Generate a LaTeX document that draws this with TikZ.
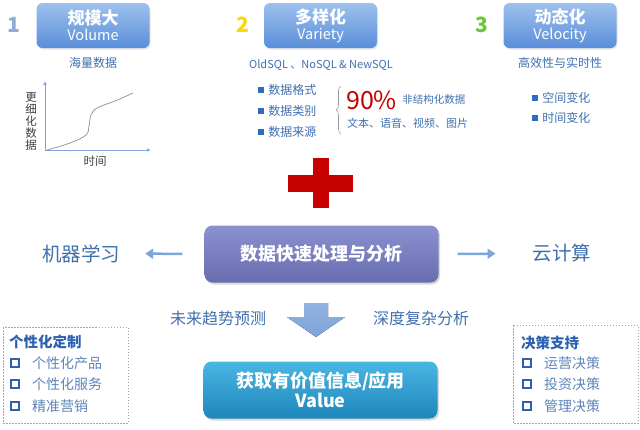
\documentclass[tikz,border=0pt]{standalone}
\usepackage{fontspec}
\setmainfont{Noto Sans CJK SC}
\usetikzlibrary{positioning, arrows.meta, shadows, decorations.pathreplacing}

\definecolor{headtop}{HTML}{9DC1EE}
\definecolor{headbot}{HTML}{5A8ED9}
\definecolor{proctop}{HTML}{8B91D0}
\definecolor{procbot}{HTML}{676DAE}
\definecolor{valtop}{HTML}{4AB6E2}
\definecolor{valbot}{HTML}{1D86BC}
\definecolor{txtblue}{HTML}{3F6FAE}
\definecolor{dotblue}{HTML}{2F6CC0}
\definecolor{hdblue}{HTML}{2C62B0}
\definecolor{arrblue}{HTML}{7EA4D9}
\definecolor{plusred}{HTML}{C40000}

\begin{document}
\begin{tikzpicture}[
  x=1pt, y=-1pt,
  node distance=3pt and 4pt,
  headbox/.style={rounded corners=6pt, minimum width=113pt, minimum height=45pt,
                  inner sep=0pt, align=center, top color=headtop, bottom color=headbot,
                  text=white, drop shadow={opacity=0.2, shadow xshift=1pt, shadow yshift=-1.5pt}},
  num/.style={font=\fontsize{21}{23}\selectfont\bfseries},
  sub/.style={font=\fontsize{12}{14}\selectfont, text=txtblue, inner sep=0pt},
  sqdot/.style={fill=dotblue, minimum size=6pt, inner sep=0pt},
  item/.style={font=\fontsize{12}{14}\selectfont, text=txtblue, inner sep=0pt, anchor=west},
  axis/.style={draw=arrblue, line width=0.8pt, -{Latex[length=4pt, width=3.5pt]}},
  big/.style={font=\fontsize{19.5}{22}\selectfont, text=txtblue, inner sep=0pt},
  mid/.style={font=\fontsize{16}{18}\selectfont, text=txtblue, inner sep=0pt},
  side/.style={draw=arrblue, line width=2.5pt, -{Triangle[length=8pt, width=10pt]}},
  bigbox/.style={rounded corners=8pt, minimum width=234pt, minimum height=57pt,
                 inner sep=0pt, align=center, text=white,
                 font=\fontsize{18}{22}\selectfont\bfseries,
                 drop shadow={opacity=0.3, shadow xshift=1.5pt, shadow yshift=-2pt}},
  dashbox/.style={draw=black!35, dashed, dash pattern=on 1.5pt off 1.5pt, line width=0.7pt},
  grphead/.style={font=\fontsize{14.5}{16}\selectfont\bfseries, text=hdblue, inner sep=0pt, anchor=west},
  hollow/.style={draw=hdblue, line width=1.6pt, minimum size=8pt, inner sep=0pt},
  grpitem/.style={font=\fontsize{14}{16}\selectfont, text=txtblue!85, inner sep=0pt, anchor=west},
]
\useasboundingbox (0,0) rectangle (640,429);

% column 1: volume
\node[num, text=headtop!90!black] (n1) at (14,25) {1};
\node[headbox] (vol) at (93,25.5) {{\fontsize{17}{20}\selectfont\bfseries 规模大}\\[2pt]{\fontsize{14.5}{17}\selectfont Volume}};
\node[sub] (volsub) at (93,63) {海量数据};
\coordinate (org) at (45,150);
\coordinate (ytop) at (45,81);
\coordinate (xend) at (151,150);
\draw[axis] (org) -- (ytop);
\draw[axis] (org) -- (xend);
\draw[black!40, line width=0.8pt] plot[smooth, tension=0.6] coordinates
  {(47,150) (70,143) (86,135) (89,126) (91,115) (97,108) (115,101) (133,93)};
\node[sub, text=black!75, align=center, font=\fontsize{11.5}{12}\selectfont] (yl) at (31,121) {更\\细\\化\\数\\据};
\node[sub, text=black!75, font=\fontsize{11.5}{13}\selectfont] (xl) at (95,161) {时间};

% column 2: variety
\node[num, text=yellow!75!orange] (n2) at (243,25) {2};
\node[headbox] (var) at (320.5,25.5) {{\fontsize{17}{20}\selectfont\bfseries 多样化}\\[2pt]{\fontsize{14.5}{17}\selectfont Variety}};
\node[sub, font=\fontsize{11}{13}\selectfont] (sql) at (321,65) {OldSQL 、NoSQL \& NewSQL};
\node[sqdot] (d1) at (261,90) {};
\node[item, right=4pt of d1] {数据格式};
\node[sqdot] (d2) at (261,111) {};
\node[item, right=4pt of d2] {数据类别};
\node[sqdot] (d3) at (261,132) {};
\node[item, right=4pt of d3] {数据来源};
\draw[black!40, line width=0.6pt, decorate, decoration={brace, amplitude=5pt}] (341,134) -- (341,86);
\node[inner sep=0pt, anchor=west, text=plusred, font=\fontsize{25}{28}\selectfont] (pct) at (346,100) {90\%};
\node[item, font=\fontsize{10.5}{12}\selectfont, right=5pt of pct] {非结构化数据};
\node[item, font=\fontsize{11}{13}\selectfont] (kinds) at (347,123) {文本、语音、视频、图片};

% column 3: velocity
\node[num, text=green!45!olive!80] (n3) at (482,25) {3};
\node[headbox] (vel) at (560,25.5) {{\fontsize{17}{20}\selectfont\bfseries 动态化}\\[2pt]{\fontsize{14.5}{17}\selectfont Velocity}};
\node[sub] (velsub) at (560,63) {高效性与实时性};
\node[sqdot] (s1) at (535,98) {};
\node[item, right=4pt of s1] {空间变化};
\node[sqdot] (s2) at (535,118) {};
\node[item, right=4pt of s2] {时间变化};

% plus
\fill[plusred] (312.5,158) rectangle (328.5,208);
\fill[plusred] (288,175) rectangle (353,192);

% row 2: processing
\node[bigbox, top color=proctop, bottom color=procbot] (proc) at (321.5,254) {数据快速处理与分析};
\node[big] (ml) at (81,253.5) {机器学习};
\node[big] (cloud) at (562,253.5) {云计算};
\draw[side, shorten <=22pt, shorten >=25pt] (proc.west) -- (ml.east);
\draw[side, shorten <=19pt, shorten >=37pt] (proc.east) -- (cloud.west);
\node[mid] (trend) at (218,318) {未来趋势预测};
\node[mid] (deep) at (421,318) {深度复杂分析};
\coordinate (dn) at (316,303);
\fill[top color=arrblue!85, bottom color=arrblue, draw=none]
  (dn) ++(-12,0) -- ++(24,0) -- ++(0,14) -- ++(17,0) -- ++(-29,20) -- ++(-29,-20) -- ++(17,0) -- cycle;

% row 3: value
\node[bigbox, top color=valtop, bottom color=valbot] (val) at (320.5,390) {获取有价值信息/应用\\[-2pt]Value};

% left group
\draw[dashbox] (3,327) rectangle (128,423);
\node[grphead] (g1) at (9,342) {个性化定制};
\node[hollow] (b1) at (15,363) {};
\node[grpitem] at (32,363) {个性化产品};
\node[hollow] (b2) at (15,384) {};
\node[grpitem] at (32,384) {个性化服务};
\node[hollow] (b3) at (15,406) {};
\node[grpitem] at (32,406) {精准营销};

% right group
\draw[dashbox] (513,325) rectangle (638,423);
\node[grphead] (g2) at (521,343) {决策支持};
\node[hollow] (c1) at (527,363) {};
\node[grpitem] at (544,363) {运营决策};
\node[hollow] (c2) at (527,384) {};
\node[grpitem] at (544,384) {投资决策};
\node[hollow] (c3) at (527,406) {};
\node[grpitem] at (544,406) {管理决策};
\end{tikzpicture}
\end{document}
